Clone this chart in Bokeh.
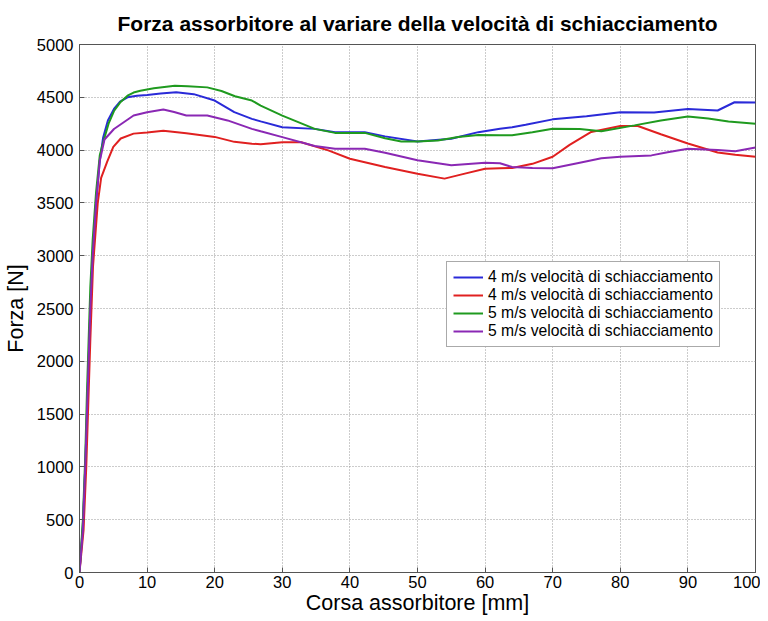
from bokeh.plotting import figure
from bokeh.models import Range1d, FixedTicker, Legend, LegendItem
from bokeh.embed import file_html
from bokeh.resources import INLINE

# Data
blue_x = [0, 0.5, 0.85, 1.1, 1.35, 1.6, 1.95, 2.45, 3.0, 3.5, 4.2, 5.1, 6, 7.1, 8.5, 10, 12, 14.3, 16.9, 20,
          22.9, 25.5, 26.8, 30, 34.8, 37.8, 42.2, 45.2, 50, 55, 59, 62.2, 64, 66, 70, 75, 80, 85, 90, 94.4, 96.9, 100]
blue_y = [0, 450, 1000, 1500, 2000, 2500, 3000, 3500, 3900, 4120, 4280, 4390, 4460, 4500, 4515, 4522, 4535, 4547,
          4530, 4469, 4359, 4296, 4272, 4217, 4201, 4170, 4170, 4130, 4082, 4107, 4170, 4203, 4217, 4240, 4291,
          4320, 4359, 4355, 4390, 4375, 4453, 4450]

red_x = [0, 0.6, 1.0, 1.3, 1.6, 2.0, 2.7, 3.2, 4.1, 5, 6.1, 8, 10, 12.4, 15.8, 20, 22.9, 25.5, 26.8, 30, 32.8,
         36.8, 40, 45.2, 50, 54, 57, 60, 62.2, 64, 67, 70, 72.5, 75.7, 80, 82.6, 86, 90, 94.4, 97, 100]
red_y = [0, 400, 1000, 1600, 2200, 2900, 3500, 3737, 3891, 4030, 4110, 4156, 4166, 4184, 4160, 4125, 4078, 4060,
         4056, 4075, 4075, 3997, 3918, 3840, 3777, 3730, 3777, 3824, 3828, 3830, 3870, 3937, 4050, 4172, 4228,
         4228, 4150, 4062, 3978, 3956, 3937]

green_x = [0, 0.5, 0.85, 1.1, 1.35, 1.6, 1.95, 2.45, 3.0, 3.6, 4.3, 5.1, 6, 7.1, 8, 9, 11, 14.1, 16, 18.9, 21, 23,
           25.5, 26.8, 30, 34.8, 37.8, 42.2, 45.2, 47.6, 50, 53, 56, 59, 62.2, 64, 67, 70, 74, 77.2, 82.1, 86, 90,
           93, 96, 100]
green_y = [0, 500, 1100, 1700, 2200, 2700, 3150, 3600, 3950, 4095, 4250, 4370, 4450, 4515, 4545, 4562, 4585, 4610,
           4605, 4594, 4560, 4510, 4469, 4422, 4327, 4201, 4163, 4163, 4113, 4082, 4082, 4091, 4123, 4144, 4141,
           4140, 4170, 4203, 4200, 4178, 4234, 4280, 4319, 4300, 4270, 4250]

purple_x = [0, 0.5, 0.85, 1.1, 1.35, 1.6, 1.95, 2.45, 3.0, 3.7, 5.1, 8, 10, 12.4, 14, 15.8, 18.9, 21.9, 25.5, 26.8,
            30, 34.8, 37.8, 42.2, 45.2, 50, 55, 60, 62.2, 64, 67, 70, 74, 77.2, 80, 84.6, 87, 90, 94.4, 97, 100]
purple_y = [0, 400, 1000, 1500, 2000, 2500, 3000, 3500, 3900, 4100, 4200, 4328, 4359, 4384, 4360, 4328, 4328, 4281,
            4201, 4178, 4123, 4038, 4013, 4013, 3975, 3903, 3856, 3880, 3875, 3840, 3830, 3828, 3880, 3922, 3937,
            3950, 3980, 4013, 4000, 3990, 4025]

labels = ["4 m/s velocità di schiacciamento", "4 m/s velocità di schiacciamento",
          "5 m/s velocità di schiacciamento", "5 m/s velocità di schiacciamento"]
x_ticks = list(range(0, 101, 10))
y_ticks = list(range(0, 5001, 500))

FONT = "Liberation Sans"

p = figure(width=760, height=621, output_backend="svg", toolbar_location=None,
           x_range=Range1d(0, 100), y_range=Range1d(0, 5000),
           title="Forza assorbitore al variare della velocità di schiacciamento")
p.min_border_left = 78
p.min_border_right = 5
p.min_border_top = 43
p.min_border_bottom = 49

p.title.align = "center"
p.title.text_font = FONT
p.title.text_font_size = "21px"
p.title.text_font_style = "bold"
p.title.text_color = "black"
p.title.standoff = 19

p.outline_line_color = "#555555"
p.outline_line_width = 1
p.background_fill_color = "white"
p.border_fill_color = "white"

for ax in (p.xaxis[0], p.yaxis[0]):
    ax.major_tick_in = 5
    ax.major_tick_out = 0
    ax.minor_tick_in = 0
    ax.minor_tick_out = 0
    ax.axis_line_color = "#555555"
    ax.major_tick_line_color = "#555555"
    ax.major_label_text_font = FONT
    ax.major_label_text_font_size = "16.5px"
    ax.major_label_text_color = "black"
    ax.axis_label_text_font = FONT
    ax.axis_label_text_font_size = "21.5px"
    ax.axis_label_text_font_style = "normal"
    ax.axis_label_text_color = "black"

p.xaxis.ticker = FixedTicker(ticks=x_ticks)
p.yaxis.ticker = FixedTicker(ticks=y_ticks)
p.xaxis.axis_label = "Corsa assorbitore [mm]"
p.yaxis.axis_label = "Forza [N]"
p.xaxis.major_label_standoff = 3
p.yaxis.major_label_standoff = 6
p.xaxis.axis_label_standoff = 0
p.yaxis.axis_label_standoff = 6

for g in (p.xgrid[0], p.ygrid[0]):
    g.grid_line_color = "#999999"
    g.grid_line_dash = "1 2"
    g.grid_line_width = 1

colors = ["#2a2ad8", "#e02020", "#1f9a1f", "#8a28b4"]
series = [(blue_x, blue_y), (red_x, red_y), (green_x, green_y), (purple_x, purple_y)]
renderers = []
for (xs, ys), c in zip(series, colors):
    r = p.line(xs, ys, line_color=c, line_width=2)
    renderers.append(r)

legend = Legend(items=[LegendItem(label=l, renderers=[r]) for l, r in zip(labels, renderers)],
                location=(367, 225))
legend.label_text_font = FONT
legend.label_text_font_size = "15.7px"
legend.label_text_color = "black"
legend.label_height = 18
legend.glyph_height = 18
legend.glyph_width = 30
legend.label_standoff = 5
legend.spacing = 0
legend.padding = 6
legend.margin = 0
legend.border_line_color = "#555555"
legend.border_line_width = 1
legend.background_fill_alpha = 1
p.add_layout(legend, "center")

open("out.html", "w").write(file_html(p, INLINE))
